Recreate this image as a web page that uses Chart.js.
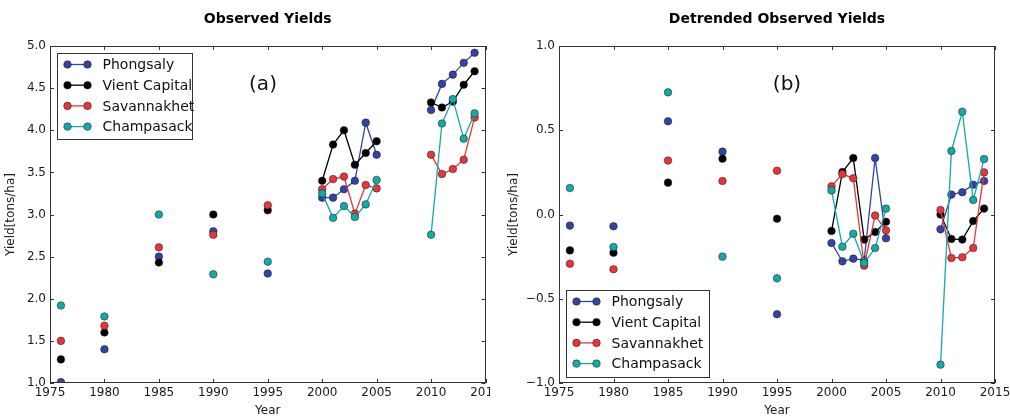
<!DOCTYPE html>
<html>
<head>
<meta charset="utf-8">
<script src="https://cdn.jsdelivr.net/npm/chart.js@4/dist/chart.umd.min.js"></script>
<style>
    body { margin: 0; background: #fff; }
    .panel { position: absolute; top: 0; height: 418px; }
</style>
</head>
<body>
<div class="panel" style="left:0;width:490px"><canvas id="observedChart" width="490" height="418"></canvas></div>
<div class="panel" style="left:490px;width:520px"><canvas id="detrendedChart" width="520" height="418"></canvas></div>
<script>
// Years and provinces
const years = [1976, 1980, 1985, 1990, 1995, 2000, 2001, 2002, 2003, 2004, 2005, 2010, 2011, 2012, 2013, 2014];
const provinces = ['Phongsaly', 'Vient Capital', 'Savannakhet', 'Champasack'];
const colors = ['#3342a3', '#000000', '#e6363a', '#13a9a7'];

// Observed yields (tons/ha)
const phongsalyObs = [1.01, 1.40, 2.50, 2.80, 2.30, 3.20, 3.20, 3.30, 3.40, 4.09, 3.71, 4.24, 4.55, 4.66, 4.80, 4.92];
const vientObs = [1.28, 1.60, 2.43, 3.00, 3.05, 3.40, 3.83, 4.00, 3.59, 3.73, 3.87, 4.33, 4.27, 4.34, 4.54, 4.70];
const savannakhetObs = [1.50, 1.68, 2.61, 2.76, 3.11, 3.30, 3.42, 3.45, 3.01, 3.35, 3.31, 3.71, 3.48, 3.54, 3.65, 4.15];
const champasackObs = [1.92, 1.79, 3.00, 2.29, 2.44, 3.25, 2.96, 3.10, 2.97, 3.12, 3.41, 2.76, 4.08, 4.37, 3.90, 4.20];

// Detrended yields (tons/ha)
const phongsalyDet = [-0.066, -0.07, 0.553, 0.373, -0.592, -0.169, -0.278, -0.262, -0.272, 0.335, -0.141, -0.088, 0.118, 0.132, 0.177, 0.199];
const vientDet = [-0.213, -0.227, 0.189, 0.331, -0.025, -0.098, 0.252, 0.335, -0.149, -0.104, -0.043, 0.0, -0.145, -0.149, -0.039, 0.035];
const savannakhetDet = [-0.292, -0.325, 0.32, 0.199, 0.26, 0.167, 0.24, 0.215, -0.304, -0.006, -0.094, 0.026, -0.258, -0.254, -0.199, 0.25];
const champasackDet = [0.157, -0.193, 0.725, -0.25, -0.379, 0.143, -0.191, -0.114, -0.288, -0.199, 0.035, -0.891, 0.377, 0.61, 0.086, 0.329];

// Axis ticks
const xMin = 1975, xMax = 2015, xStep = 5;
const obsTicks = { min: 1.0, max: 5.0, step: 0.5 };
const detTicks = { min: -1.0, max: 1.0, step: 0.5 };

const FONT = "'DejaVu Sans', sans-serif";

// Lines only join consecutive years, so put a gap where years jump
function toPoints(values) {
    const pts = [];
    years.forEach((year, i) => {
        if (i > 0 && year - years[i - 1] > 1) pts.push({ x: year, y: null });
        pts.push({ x: year, y: values[i] });
    });
    return pts;
}

function makeDatasets(seriesList) {
    return seriesList.map((values, i) => ({
        label: provinces[i],
        data: toPoints(values),
        borderColor: colors[i],
        backgroundColor: colors[i],
        borderWidth: 1.3,
        pointRadius: 3.8,
        pointBorderColor: '#1a1a1a',
        pointBorderWidth: 0.5,
        spanGaps: false,
        tension: 0,
        order: 3 - i
    }));
}

// Box, inner ticks, legend, panel letter and title
const decorPlugin = {
    id: 'decor',
    afterDraw(chart, args, opts) {
        const ctx = chart.ctx;
        const area = chart.chartArea;
        const xs = chart.scales.x;
        const ys = chart.scales.y;
        ctx.save();
        ctx.strokeStyle = '#333';
        ctx.lineWidth = 1;
        ctx.strokeRect(Math.round(area.left) + 0.5, Math.round(area.top) + 0.5,
            Math.round(area.right - area.left) - 1, Math.round(area.bottom - area.top) - 1);

        ctx.beginPath();
        xs.ticks.forEach(t => {
            const px = Math.round(xs.getPixelForValue(t.value)) + 0.5;
            ctx.moveTo(px, area.bottom); ctx.lineTo(px, area.bottom - 4);
            ctx.moveTo(px, area.top); ctx.lineTo(px, area.top + 4);
        });
        ys.ticks.forEach(t => {
            const py = Math.round(ys.getPixelForValue(t.value)) + 0.5;
            ctx.moveTo(area.left, py); ctx.lineTo(area.left + 4, py);
            ctx.moveTo(area.right, py); ctx.lineTo(area.right - 4, py);
        });
        ctx.stroke();

        // legend
        const lx = Math.round(area.left + opts.legend.x) + 0.5;
        const ly = Math.round(opts.legend.fromBottom ? area.bottom - opts.legend.y - opts.legend.h : area.top + opts.legend.y) + 0.5;
        ctx.fillStyle = '#fff';
        ctx.fillRect(lx, ly, opts.legend.w, opts.legend.h);
        ctx.strokeStyle = '#333';
        ctx.strokeRect(lx, ly, opts.legend.w, opts.legend.h);
        ctx.font = '14px ' + FONT;
        ctx.textBaseline = 'middle';
        ctx.textAlign = 'left';
        provinces.forEach((name, i) => {
            const ry = ly + 11 + i * 20.7;
            ctx.strokeStyle = colors[i];
            ctx.lineWidth = 1.3;
            ctx.beginPath();
            ctx.moveTo(lx + 10, ry); ctx.lineTo(lx + 30, ry);
            ctx.stroke();
            [10, 30].forEach(dx => {
                ctx.beginPath();
                ctx.arc(lx + dx, ry, 3.8, 0, Math.PI * 2);
                ctx.fillStyle = colors[i];
                ctx.fill();
                ctx.lineWidth = 0.5;
                ctx.strokeStyle = '#1a1a1a';
                ctx.stroke();
            });
            ctx.fillStyle = '#111';
            ctx.fillText(name, lx + 45, ry + 1);
        });

        // panel letter
        ctx.font = '20px ' + FONT;
        ctx.textAlign = 'center';
        ctx.fillStyle = '#111';
        ctx.fillText(opts.letter, area.left + opts.letterX, area.top + 39);

        // title
        ctx.font = 'bold 14px ' + FONT;
        ctx.fillStyle = '#000';
        ctx.fillText(opts.title, (area.left + area.right) / 2, 19);
        ctx.restore();
    }
};

function makeChart(canvasId, seriesList, yRange, yFmt, cfg) {
    const ctx = document.getElementById(canvasId).getContext('2d');
    return new Chart(ctx, {
        type: 'line',
        data: { datasets: makeDatasets(seriesList) },
        options: {
            responsive: false,
            animation: false,
            devicePixelRatio: 1,
            layout: { padding: { top: 46, bottom: 0, left: cfg.padLeft, right: cfg.padRight } },
            plugins: {
                legend: { display: false },
                tooltip: { enabled: false },
                decor: cfg.decor
            },
            scales: {
                x: {
                    type: 'linear',
                    min: xMin,
                    max: xMax,
                    offset: false,
                    grid: { display: false, drawTicks: false },
                    border: { display: false },
                    ticks: {
                        stepSize: xStep,
                        padding: 3,
                        color: '#1a1a1a',
                        font: { family: FONT, size: 12 },
                        maxRotation: 0,
                        autoSkip: false,
                        callback: v => String(v)
                    },
                    title: {
                        display: true,
                        text: 'Year',
                        color: '#1a1a1a',
                        font: { family: FONT, size: 12 },
                        padding: { top: 0, bottom: 0 }
                    },
                    afterFit: scale => {
                        scale.height = 35;
                        scale.paddingLeft = 0;
                        scale.paddingRight = 0;
                    }
                },
                y: {
                    min: yRange.min,
                    max: yRange.max,
                    grid: { display: false, drawTicks: false },
                    border: { display: false },
                    ticks: {
                        stepSize: yRange.step,
                        padding: 4,
                        color: '#1a1a1a',
                        font: { family: FONT, size: 12 },
                        callback: yFmt
                    },
                    title: {
                        display: true,
                        text: 'Yield[tons/ha]',
                        color: '#1a1a1a',
                        font: { family: FONT, size: 12 },
                        padding: { top: 4, bottom: 4 }
                    },
                    afterFit: scale => {
                        scale.width = cfg.yWidth;
                        scale.paddingTop = 0;
                        scale.paddingBottom = 0;
                    }
                }
            }
        },
        plugins: [decorPlugin]
    });
}

const fmt = v => Number(v).toFixed(1);
const fmtMinus = v => {
    const s = Math.abs(v).toFixed(1);
    return v < 0 ? '\u2212' + s : s;
};

makeChart('observedChart',
    [phongsalyObs, vientObs, savannakhetObs, champasackObs],
    obsTicks, fmt,
    {
        padLeft: 0, padRight: 4, yWidth: 50,
        decor: { title: 'Observed Yields', letter: '(a)', letterX: 213,
                 legend: { x: 7, y: 7, w: 135, h: 86, fromBottom: false } }
    });

makeChart('detrendedChart',
    [phongsalyDet, vientDet, savannakhetDet, champasackDet],
    detTicks, fmtMinus,
    {
        padLeft: 13, padRight: 15, yWidth: 56,
        decor: { title: 'Detrended Observed Yields', letter: '(b)', letterX: 228,
                 legend: { x: 7, y: 6, w: 143, h: 87, fromBottom: true } }
    });
</script>
</body>
</html>
